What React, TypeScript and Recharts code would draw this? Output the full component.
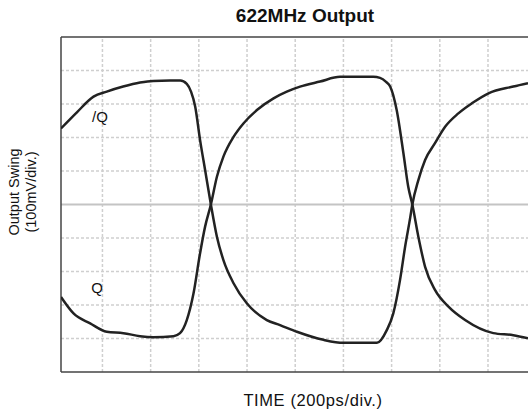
import { LineChart, Line, XAxis, YAxis, ReferenceLine, ReferenceDot } from 'recharts'

// time in ps (200ps/div), swing in mV (100mV/div)
const qbarTime = [28, 95, 163, 218, 286, 356, 410, 481, 523, 550, 568, 585, 605, 626, 650, 675, 702, 744, 799, 882, 937, 1007, 1117, 1200, 1339, 1380, 1407, 1435, 1456, 1477, 1486, 1511, 1539, 1580, 1622, 1677, 1733, 1802, 1905, 1966]
const qbarMv = [227, 276, 322, 337, 352, 364, 369, 370, 370, 360, 336, 292, 193, 103, 0, -96, -166, -235, -295, -345, -360, -380, -404, -413, -413, -375, -325, -225, -126, -40, 0, 73, 133, 183, 232, 272, 302, 332, 352, 362]

const qTime = [28, 80, 149, 218, 287, 356, 411, 495, 522, 550, 578, 605, 626, 650, 675, 702, 744, 785, 841, 910, 965, 1020, 1103, 1186, 1324, 1352, 1377, 1394, 1421, 1449, 1469, 1486, 1511, 1539, 1580, 1636, 1705, 1822, 1905, 1966]
const qMv = [-276, -325, -355, -380, -384, -393, -396, -393, -384, -345, -265, -146, -66, 0, 83, 143, 202, 242, 282, 317, 337, 352, 367, 381, 381, 378, 366, 352, 282, 153, 53, 0, -96, -186, -255, -305, -345, -384, -390, -399]

const timeGrid = [200, 400, 600, 800, 1000, 1200, 1400, 1600, 1800]
const mvGrid = [-400, -300, -200, -100, 100, 200, 300, 400]

const T_MIN = 28
const T_MAX = 1966

export default function App() {
    const qbar = qbarTime.map((t, i) => ({ t, v: qbarMv[i] }))
    const q = qTime.map((t, i) => ({ t, v: qMv[i] }))
    const font = '"Liberation Sans", Arial, sans-serif'

    return (
        <div style={{ position: 'absolute', left: 0, top: 0, width: 528, height: 414, background: '#fff', fontFamily: font, overflow: 'hidden' }}>
            <LineChart width={528} height={414} margin={{ top: 37, right: 0, bottom: 42, left: 61 }}>
                <XAxis dataKey="t" type="number" domain={[T_MIN, T_MAX]} allowDataOverflow hide />
                <YAxis type="number" domain={[-500, 500]} allowDataOverflow hide />
                {timeGrid.map(t => (
                    <ReferenceLine key={'x' + t} x={t} stroke="#cfcfcf" strokeWidth={1.5} strokeDasharray="3 2" />
                ))}
                {mvGrid.map(v => (
                    <ReferenceLine key={'y' + v} y={v} stroke="#cfcfcf" strokeWidth={1.5} strokeDasharray="3 2" />
                ))}
                <ReferenceLine y={0} stroke="#c4c4c4" strokeWidth={2} />
                <ReferenceLine y={500} stroke="#444" strokeWidth={1.5} />
                <ReferenceLine y={-500} stroke="#444" strokeWidth={1.5} />
                <ReferenceLine x={T_MIN} stroke="#444" strokeWidth={1.5} />
                <Line data={qbar} dataKey="v" type="monotone" stroke="#222" strokeWidth={2.5} dot={false} isAnimationActive={false} />
                <Line data={q} dataKey="v" type="monotone" stroke="#222" strokeWidth={2.5} dot={false} isAnimationActive={false} />
                <ReferenceDot x={190} y={261} r={0} stroke="none" label={{ value: '/Q', position: 'center', fill: '#111', fontSize: 15, fontFamily: font }} />
                <ReferenceDot x={178} y={-249} r={0} stroke="none" label={{ value: 'Q', position: 'center', fill: '#111', fontSize: 15, fontFamily: font }} />
            </LineChart>
            <div style={{ position: 'absolute', left: 205, width: 200, top: 5, textAlign: 'center', fontSize: 19, fontWeight: 'bold', color: '#111' }}>
                622MHz Output
            </div>
            <div style={{ position: 'absolute', left: 313 - 110, width: 220, top: 391, textAlign: 'center', fontSize: 16.5, letterSpacing: 0.6, color: '#111' }}>
                TIME (200ps/div.)
            </div>
            <div style={{ position: 'absolute', left: 24 - 80, top: 192 - 18, width: 160, height: 36, transform: 'rotate(-90deg)', textAlign: 'center', fontSize: 14.5, lineHeight: '17px', color: '#111' }}>
                Output Swing<br />(100mV/div.)
            </div>
        </div>
    )
}
